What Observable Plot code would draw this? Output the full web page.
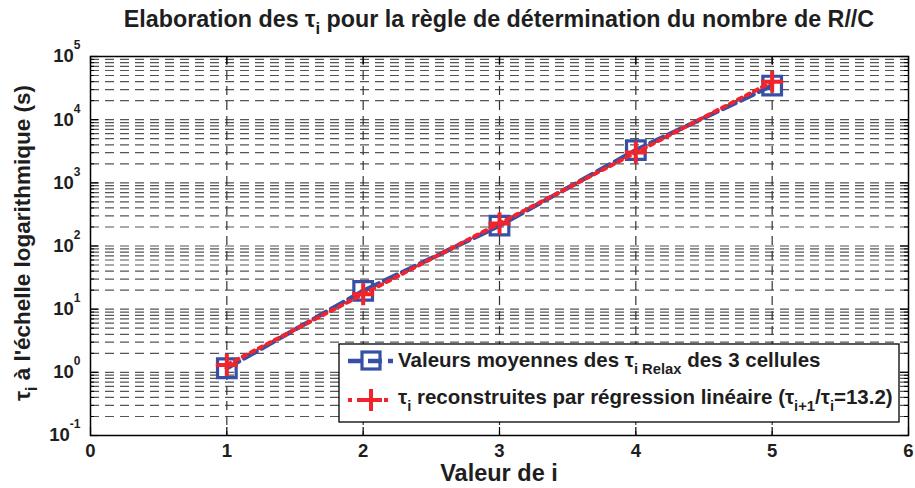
<!DOCTYPE html>
<html><head><meta charset="utf-8">
<script src="https://cdn.jsdelivr.net/npm/d3@7"></script>
<script src="https://cdn.jsdelivr.net/npm/@observablehq/plot@0.6"></script>
<style>body{margin:0;background:#fff} svg{display:block}</style>
</head><body><div id="chart"></div>
<script>
// ---- data ----
const indices = [1, 2, 3, 4, 5];
const tauRelax = [1.16, 19.5, 210, 3300, 34700];
const tauRegression = [1.31, 17.3, 228, 3010, 39700];
const xTicks = [0, 1, 2, 3, 4, 5, 6];
const yExponents = [-1, 0, 1, 2, 3, 4, 5];

const data = indices.map((i, k) => ({i, relax: tauRelax[k], reg: tauRegression[k]}));
const yMajor = yExponents.map(e => Math.pow(10, e));
const yGrid = d3.scaleLog().domain([yMajor[0], yMajor[yMajor.length - 1]]).ticks();
const yMinor = yGrid.filter(v => !yMajor.some(m => Math.abs(m - v) / m < 1e-9));

const W = 915, H = 488, mL = 90, mR = 7, mT = 56, mB = 53;
const innerW = W - mL - mR, innerH = H - mT - mB;
const BLUE = "#3550a5", RED = "#f2232b", INK = "#1e1e1e";
const FONT = "'Liberation Sans', Arial, sans-serif";
const TICK_FS = 18.5;

const crossSymbol = {
  draw(ctx, size) {
    const r = Math.sqrt(size / Math.PI);
    ctx.moveTo(-r, 0); ctx.lineTo(r, 0);
    ctx.moveTo(0, -r); ctx.lineTo(0, r);
  }
};

const plot = Plot.plot({
  width: W, height: H,
  marginLeft: mL, marginRight: mR, marginTop: mT, marginBottom: mB,
  style: {fontFamily: FONT, fontSize: TICK_FS + "px", fontWeight: "bold", color: INK, background: "white"},
  x: {domain: [xTicks[0], xTicks[xTicks.length - 1]]},
  y: {type: "log", domain: [yMajor[0], yMajor[yMajor.length - 1]]},
  marks: [
    Plot.gridY(yGrid, {stroke: "#555", strokeOpacity: 1, strokeWidth: 1.2, strokeDasharray: "9,6"}),
    Plot.gridX(xTicks.slice(1, -1), {stroke: "#333", strokeOpacity: 1, strokeWidth: 1.2, strokeDasharray: "9,6"}),
    // inward ticks (MATLAB style)
    Plot.tickX(xTicks, {x: d => d, insetTop: innerH - 8, stroke: "black", strokeWidth: 1.2}),
    Plot.tickX(xTicks, {x: d => d, insetBottom: innerH - 8, stroke: "black", strokeWidth: 1.2}),
    Plot.tickY(yMajor, {y: d => d, insetRight: innerW - 8, stroke: "black", strokeWidth: 1.2}),
    Plot.tickY(yMajor, {y: d => d, insetLeft: innerW - 8, stroke: "black", strokeWidth: 1.2}),
    Plot.tickY(yMinor, {y: d => d, insetRight: innerW - 4, stroke: "black", strokeWidth: 1}),
    Plot.tickY(yMinor, {y: d => d, insetLeft: innerW - 4, stroke: "black", strokeWidth: 1}),
    Plot.axisX(xTicks, {tickSize: 0, tickPadding: 8, label: null, fontSize: TICK_FS, fill: INK,
      tickFormat: d => String(d)}),
    Plot.axisY(yMajor, {tickSize: 0, tickPadding: 10, label: null, fontSize: TICK_FS, fill: INK,
      tickFormat: d => String(Math.round(Math.log10(d)))}),
    Plot.frame({stroke: "black", strokeWidth: 1.5}),
    Plot.line(data, {x: "i", y: "relax", stroke: BLUE, strokeWidth: 4.5, strokeDasharray: "14,6"}),
    Plot.dot(data, {x: "i", y: "relax", symbol: "square", r: 10.5, stroke: BLUE, strokeWidth: 3.2, fill: "none"}),
    Plot.line(data, {x: "i", y: "reg", stroke: RED, strokeWidth: 4, strokeDasharray: "4,5"}),
    Plot.dot(data, {x: "i", y: "reg", symbol: crossSymbol, r: 11, stroke: RED, strokeWidth: 4, fill: "none"})
  ]
});
document.getElementById("chart").appendChild(plot);

const svg = d3.select(plot);
svg.selectAll('g[aria-label="x-axis tick label"], g[aria-label="y-axis tick label"]')
  .attr("font-size", TICK_FS).style("font-size", TICK_FS + "px");

// superscript exponents on y tick labels
svg.selectAll('g[aria-label="y-axis tick label"] text').each(function () {
  const t = d3.select(this);
  const exp = this.textContent;
  t.text(null);
  t.append("tspan").attr("font-size", TICK_FS).text("10");
  t.append("tspan").attr("dy", -13).attr("font-size", 12).text(exp);
});

// rich text helper
function rich(parent, parts, fs, anchor) {
  const t = parent.append("text").attr("font-family", FONT).attr("font-weight", "bold")
    .attr("font-size", fs).attr("fill", INK).attr("text-anchor", anchor || "start");
  let cur = 0;
  parts.forEach(([s, kind]) => {
    const target = kind === "sub" ? fs * 0.32 : 0;
    t.append("tspan").attr("dy", target - cur)
      .attr("font-size", kind === "sub" ? fs * 0.72 : fs).text(s);
    cur = target;
  });
  return t;
}

const xs = plot.scale("x");
const cx = (xs.range[0] + xs.range[1]) / 2;

// title
rich(svg, [["Elaboration des τ", "n"], ["i", "sub"], [" pour la règle de détermination du nombre de R//C", "n"]], 23.3, "middle")
  .attr("x", cx).attr("y", 27);

// x label
rich(svg, [["Valeur de i", "n"]], 23.5, "middle").attr("x", cx).attr("y", 481);

// y label
rich(svg, [["τ", "n"], ["i", "sub"], [" à l'échelle logarithmique (s)", "n"]], 22.5, "middle")
  .attr("transform", `translate(30,243) rotate(-90)`);

// legend
const lg = svg.append("g");
lg.append("rect").attr("x", 339).attr("y", 344).attr("width", 560).attr("height", 78)
  .attr("fill", "white").attr("stroke", "black").attr("stroke-width", 1.3);
// row 1
lg.append("line").attr("x1", 348).attr("x2", 393).attr("y1", 361).attr("y2", 361)
  .attr("stroke", BLUE).attr("stroke-width", 4.5).attr("stroke-dasharray", "14,6");
lg.append("rect").attr("x", 362).attr("y", 352).attr("width", 18).attr("height", 17)
  .attr("fill", "none").attr("stroke", BLUE).attr("stroke-width", 3.2);
rich(lg, [["Valeurs moyennes des τ", "n"], ["i Relax", "sub"], [" des 3 cellules", "n"]], 20.5)
  .attr("x", 398).attr("y", 367);
// row 2
lg.append("line").attr("x1", 348).attr("x2", 393).attr("y1", 400).attr("y2", 400)
  .attr("stroke", RED).attr("stroke-width", 4).attr("stroke-dasharray", "4,5");
lg.append("path").attr("d", "M360,400H382M371,389V411")
  .attr("stroke", RED).attr("stroke-width", 4).attr("fill", "none");
rich(lg, [["τ", "n"], ["i", "sub"], [" reconstruites par régression linéaire (τ", "n"], ["i+1", "sub"],
  ["/τ", "n"], ["i", "sub"], ["=13.2)", "n"]], 20.5)
  .attr("x", 398).attr("y", 404);
</script>
</body></html>
